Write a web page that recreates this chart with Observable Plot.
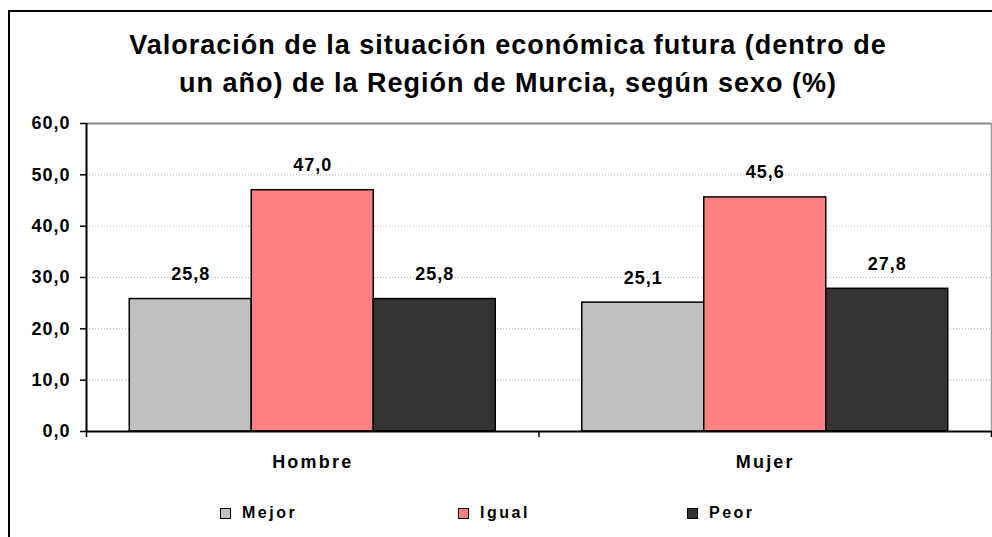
<!DOCTYPE html>
<html><head><meta charset="utf-8">
<script src="https://cdn.jsdelivr.net/npm/d3@7"></script>
<script src="https://cdn.jsdelivr.net/npm/@observablehq/plot@0.6"></script>
<style>
body{margin:0;background:#fff;font-family:"Liberation Sans",Arial,sans-serif;}
#frame{position:absolute;left:8px;top:10px;width:1000px;height:540px;border:2px solid #000;box-sizing:border-box;}
#title{position:absolute;left:12px;top:26px;width:992px;text-align:center;font-weight:bold;font-size:27px;letter-spacing:1px;line-height:38px;color:#000;}
#chart{position:absolute;left:0;top:100px;}
#legend{position:absolute;left:0;top:500px;width:992px;height:30px;font-weight:bold;font-size:16px;letter-spacing:2.5px;}
#legend .it{position:absolute;top:4px;display:flex;align-items:center;}
#legend .sw{width:9px;height:9px;border:1px solid #000;margin-right:11px;}
#chart svg text{letter-spacing:1px;}
#chart svg g.catlab text{letter-spacing:2.2px;}
</style></head>
<body>
<div id="frame"></div>
<div id="title">Valoración de la situación económica futura (dentro de<br>un año) de la Región de Murcia, según sexo (%)</div>
<div id="chart"></div>
<div id="legend"></div>
<script>
const categories = ["Hombre", "Mujer"];
const seriesNames = ["Mejor", "Igual", "Peor"];
const mejor = [25.8, 25.1];
const igual = [47.0, 45.6];
const peor = [25.8, 27.8];
const seriesColors = ["#C0C0C0", "#FF8080", "#333333"];
const yTicks = [0, 10, 20, 30, 40, 50, 60];

const values = [mejor, igual, peor];
const barW = 0.2696, outerPad = (1 - 3 * barW) / 2;
const rows = [];
categories.forEach((c, i) => seriesNames.forEach((s, j) => {
  const x1 = i + outerPad + j * barW;
  rows.push({category: c, series: s, value: values[j][i], x1, x2: x1 + barW, xm: x1 + barW / 2});
}));
const fmt = d => d.toFixed(1).replace(".", ",");

const font = '"Liberation Sans", Arial, sans-serif';
const plot = Plot.plot({
  width: 992, height: 390,
  marginLeft: 86, marginRight: 1, marginTop: 23, marginBottom: 59,
  style: {fontFamily: font, fontWeight: "bold", fontSize: "18px", color: "#000", background: "transparent"},
  x: {type: "linear", domain: [0, categories.length], axis: null},
  y: {domain: [0, 60], axis: null},
  color: {domain: seriesNames, range: seriesColors},
  marks: [
    Plot.gridY(yTicks.slice(1, -1), {stroke: "#b0b0b0", strokeOpacity: 1, strokeDasharray: "1,2", strokeWidth: 1}),
    Plot.ruleY([60], {stroke: "#888", strokeWidth: 2}),
    Plot.ruleX([categories.length], {stroke: "#999", strokeWidth: 1.5}),
    Plot.rectY(rows, {x1: "x1", x2: "x2", y: "value", fill: "series", stroke: "#000", strokeWidth: 1.5}),
    Plot.text(rows, {x: "xm", y: "value", text: d => fmt(d.value), dy: -19, lineAnchor: "bottom", fontSize: 18, fontWeight: "bold"}),
    Plot.ruleX([0], {stroke: "#000", strokeWidth: 2}),
    Plot.ruleY([0], {stroke: "#000", strokeWidth: 2}),
    Plot.axisY({ticks: yTicks, tickSize: 6, tickPadding: 10, tickFormat: fmt, stroke: "#000", strokeWidth: 1.5, fontSize: 18, label: null}),
    Plot.axisX({ticks: d3.range(categories.length + 1), tickSize: 6, tickFormat: () => "", stroke: "#000", strokeWidth: 1.5, label: null}),
    Plot.axisX({ticks: categories.map((c, i) => i + 0.5), tickSize: 0, tickPadding: 24, tickFormat: v => categories[Math.floor(v)], fontSize: 18, label: null})
  ]
});
const xLabelGroups = plot.querySelectorAll('g[aria-label="x-axis tick label"]');
if (xLabelGroups.length) xLabelGroups[xLabelGroups.length - 1].classList.add("catlab");
document.getElementById("chart").appendChild(plot);

const legendX = [220, 458, 687];
const lg = document.getElementById("legend");
seriesNames.forEach((s, j) => {
  const it = document.createElement("div");
  it.className = "it";
  it.style.left = legendX[j] + "px";
  it.innerHTML = `<span class="sw" style="background:${seriesColors[j]}"></span><span>${s}</span>`;
  lg.appendChild(it);
});
</script>
</body></html>
